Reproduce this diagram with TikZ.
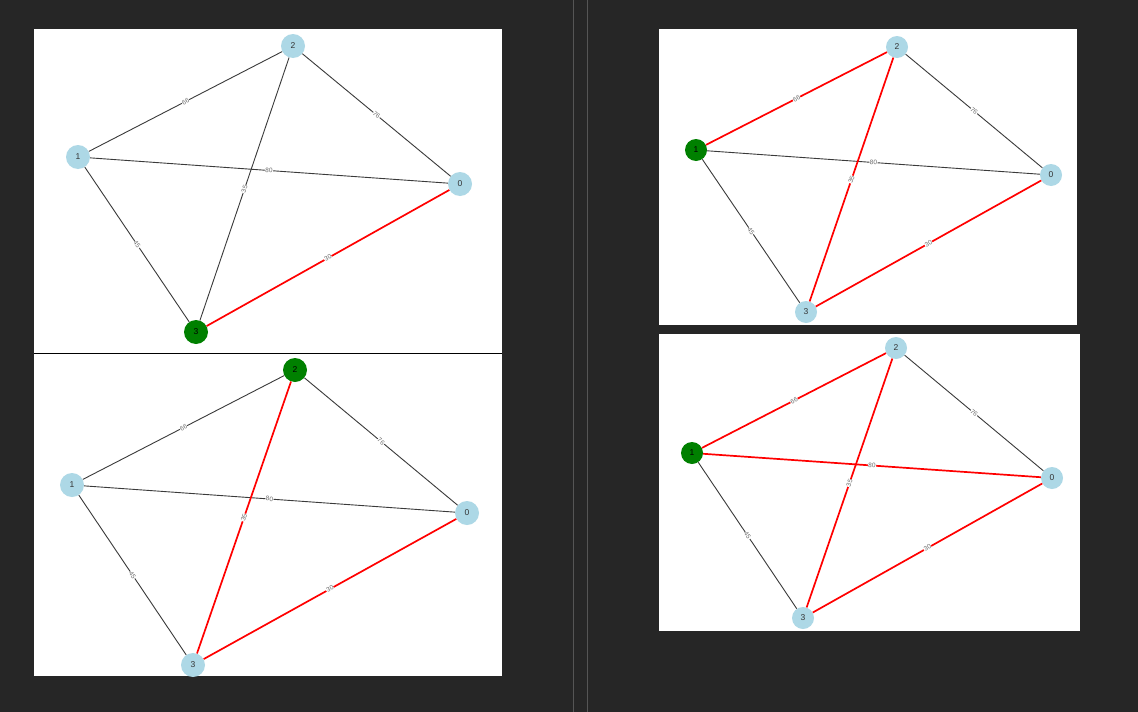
\documentclass[tikz,border=0pt]{standalone}
\usepackage{fontspec}
\setmainfont{Liberation Sans}
\definecolor{bg}{HTML}{262626}
\definecolor{lb}{HTML}{ADD8E6}
\definecolor{gn}{HTML}{008000}
\definecolor{edg}{HTML}{3A3A3A}
\definecolor{sep}{HTML}{555555}
\definecolor{lbl}{HTML}{6A6A6A}
\tikzset{
  vtx/.style={circle, fill=lb, minimum size=24pt, inner sep=0pt, font=\fontsize{8.5}{8.5}\selectfont, text=black!80},
  vtxs/.style={vtx, minimum size=22pt},
  cur/.style={fill=gn, text=black},
  plain/.style={draw=edg, line width=0.9pt},
  hot/.style={draw=red, line width=1.7pt},
  wt/.style={midway, sloped, fill=white, inner sep=0.4pt, text=lbl, font=\fontsize{6.5}{6.5}\selectfont},
  panel/.style={fill=white}
}
\begin{document}
\begin{tikzpicture}[x=1pt,y=-1pt]
\fill[bg] (0,0) rectangle (1138,712);
\useasboundingbox (0,0) rectangle (1138,712);
\draw[sep, line width=0.8pt] (573,0) -- (573,712);
\draw[sep, line width=0.8pt] (587,0) -- (587,712);
% panels
\fill[panel] (34,29) rectangle (502,353);
\fill[panel] (34,353) rectangle (502,676);
\draw[black, line width=0.8pt] (34,353) -- (502,353);
\fill[panel] (659,29) rectangle (1077,325);
\fill[panel] (659,334) rectangle (1080,631);

% Panel A
\node[vtx] (a2) at (293,46) {2};
\node[vtx] (a1) at (78,157) {1};
\node[vtx] (a0) at (460,184) {0};
\node[vtx, cur] (a3) at (196,332) {3};
\draw[plain] (a1) -- node[wt]{66} (a2);
\draw[plain] (a2) -- node[wt]{76} (a0);
\draw[plain] (a1) -- node[wt]{80} (a0);
\draw[plain] (a2) -- node[wt]{35} (a3);
\draw[plain] (a1) -- node[wt]{45} (a3);
\draw[hot] (a3) -- node[wt]{30} (a0);

% Panel B
\node[vtx, cur] (b2) at (295,370) {2};
\node[vtx] (b1) at (72,485) {1};
\node[vtx] (b0) at (467,513) {0};
\node[vtx] (b3) at (193,665) {3};
\draw[plain] (b1) -- node[wt]{66} (b2);
\draw[plain] (b2) -- node[wt]{76} (b0);
\draw[plain] (b1) -- node[wt]{80} (b0);
\draw[hot] (b2) -- node[wt]{35} (b3);
\draw[plain] (b1) -- node[wt]{45} (b3);
\draw[hot] (b3) -- node[wt]{30} (b0);

% Panel C
\node[vtxs] (c2) at (897,47) {2};
\node[vtxs, cur] (c1) at (696,150) {1};
\node[vtxs] (c0) at (1051,175) {0};
\node[vtxs] (c3) at (806,312) {3};
\draw[hot] (c1) -- node[wt]{66} (c2);
\draw[plain] (c2) -- node[wt]{76} (c0);
\draw[plain] (c1) -- node[wt]{80} (c0);
\draw[hot] (c2) -- node[wt]{35} (c3);
\draw[plain] (c1) -- node[wt]{45} (c3);
\draw[hot] (c3) -- node[wt]{30} (c0);

% Panel D
\node[vtxs] (d2) at (896,348) {2};
\node[vtxs, cur] (d1) at (692,453) {1};
\node[vtxs] (d0) at (1052,478) {0};
\node[vtxs] (d3) at (803,618) {3};
\draw[hot] (d1) -- node[wt]{66} (d2);
\draw[plain] (d2) -- node[wt]{76} (d0);
\draw[hot] (d1) -- node[wt]{80} (d0);
\draw[hot] (d2) -- node[wt]{35} (d3);
\draw[plain] (d1) -- node[wt]{45} (d3);
\draw[hot] (d3) -- node[wt]{30} (d0);
\end{tikzpicture}
\end{document}
